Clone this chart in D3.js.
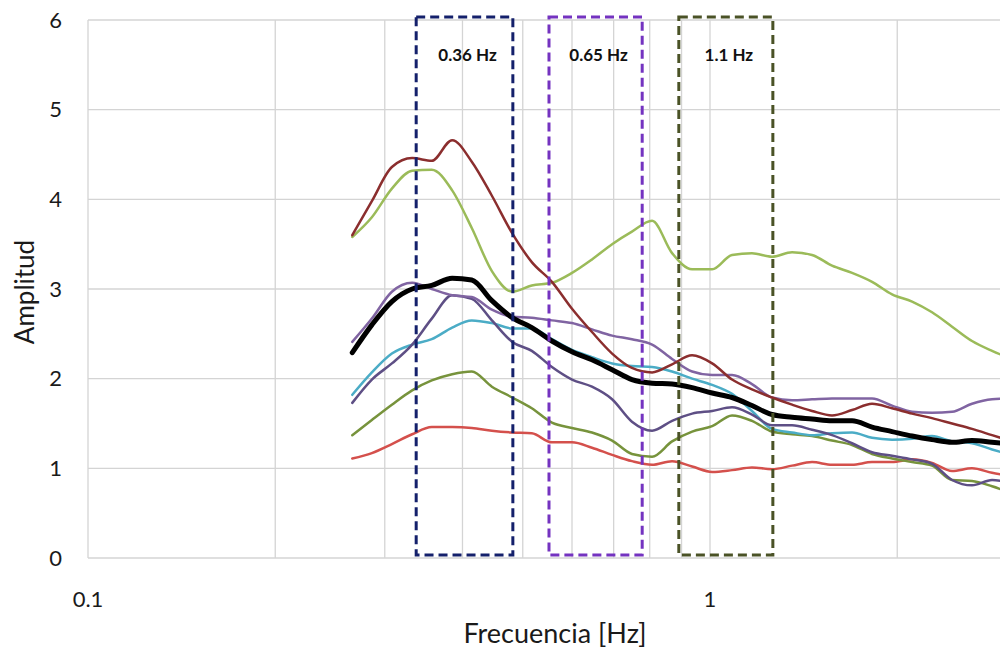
<!DOCTYPE html>
<html>
<head>
<meta charset="utf-8">
<script src="https://cdn.jsdelivr.net/npm/d3@7/dist/d3.min.js"></script>
<style>
  html, body { margin: 0; padding: 0; background: #fff; }
  svg { display: block; }
</style>
</head>
<body>
<svg id="chart" width="1000" height="651"></svg>
<script>
// ---- Data ----
const freqs = [0.266, 0.286, 0.308, 0.332, 0.357, 0.385, 0.414, 0.446, 0.481, 0.517,
               0.557, 0.600, 0.646, 0.696, 0.749, 0.807, 0.869, 0.936, 1.008, 1.085,
               1.168, 1.258, 1.355, 1.459, 1.571, 1.692, 1.822, 1.962, 2.113, 2.275,
               2.450, 2.638, 2.841, 3.059];

const darkRed = [3.60, 3.98, 4.36, 4.46, 4.43, 4.66, 4.42, 4.04, 3.62, 3.30,
                 3.08, 2.78, 2.52, 2.28, 2.12, 2.07, 2.16, 2.26, 2.17, 1.99,
                 1.88, 1.79, 1.71, 1.64, 1.59, 1.65, 1.72, 1.67, 1.61, 1.56,
                 1.50, 1.44, 1.37, 1.30];
const lightGreen = [3.58, 3.80, 4.12, 4.32, 4.33, 4.10, 3.68, 3.20, 2.97, 3.04,
                    3.07, 3.18, 3.33, 3.50, 3.64, 3.76, 3.40, 3.22, 3.22, 3.38,
                    3.40, 3.36, 3.41, 3.38, 3.26, 3.18, 3.08, 2.94, 2.86, 2.74,
                    2.58, 2.42, 2.31, 2.22];
const lightPurple = [2.41, 2.67, 2.97, 3.07, 3.00, 2.93, 2.91, 2.77, 2.69, 2.68,
                     2.65, 2.62, 2.55, 2.48, 2.44, 2.38, 2.22, 2.08, 2.04, 2.04,
                     1.94, 1.79, 1.76, 1.77, 1.78, 1.78, 1.78, 1.70, 1.63, 1.62,
                     1.63, 1.72, 1.77, 1.78];
const slate = [1.73, 1.99, 2.17, 2.38, 2.67, 2.93, 2.89, 2.65, 2.41, 2.31,
               2.13, 1.99, 1.91, 1.77, 1.52, 1.42, 1.53, 1.61, 1.64, 1.68,
               1.60, 1.48, 1.48, 1.43, 1.37, 1.28, 1.18, 1.14, 1.10, 1.05,
               0.87, 0.81, 0.87, 0.83];
const cyan = [1.82, 2.07, 2.28, 2.38, 2.44, 2.57, 2.65, 2.62, 2.56, 2.56,
              2.44, 2.32, 2.24, 2.17, 2.14, 2.13, 2.08, 2.00, 1.93, 1.83,
              1.64, 1.44, 1.40, 1.37, 1.39, 1.40, 1.34, 1.32, 1.33, 1.36,
              1.30, 1.28, 1.21, 1.15];
const olive = [1.37, 1.54, 1.71, 1.87, 1.98, 2.05, 2.08, 1.91, 1.79, 1.67,
               1.51, 1.45, 1.40, 1.31, 1.16, 1.13, 1.30, 1.41, 1.47, 1.59,
               1.53, 1.41, 1.38, 1.36, 1.31, 1.26, 1.16, 1.11, 1.07, 1.03,
               0.87, 0.86, 0.80, 0.72];
const red = [1.11, 1.17, 1.27, 1.38, 1.46, 1.46, 1.45, 1.42, 1.40, 1.39,
             1.29, 1.29, 1.23, 1.15, 1.08, 1.04, 1.08, 1.02, 0.96, 0.98,
             1.01, 0.99, 1.03, 1.07, 1.04, 1.04, 1.07, 1.07, 1.10, 1.06,
             0.97, 1.00, 0.95, 0.91];
const average = [2.29, 2.60, 2.86, 3.00, 3.04, 3.12, 3.10, 2.87, 2.68, 2.57,
                 2.42, 2.30, 2.21, 2.10, 1.99, 1.95, 1.94, 1.90, 1.84, 1.79,
                 1.70, 1.60, 1.57, 1.55, 1.53, 1.53, 1.46, 1.41, 1.36, 1.32,
                 1.29, 1.31, 1.29, 1.27];

// highlighted frequency bands
const bandLabels = ["0.36 Hz", "0.65 Hz", "1.1 Hz"];
const bandLow  = [0.337, 0.551, 0.891];
const bandHigh = [0.482, 0.778, 1.262];

const yTicks = [0, 1, 2, 3, 4, 5, 6];
const xTickLabels = [0.1, 1];

// ---- Styles ----
const seriesList = [
  { values: red,         color: "#D4504C", width: 2.5 },
  { values: olive,       color: "#77933C", width: 2.5 },
  { values: cyan,        color: "#4BACC6", width: 2.5 },
  { values: slate,       color: "#5E4F85", width: 2.5 },
  { values: lightPurple, color: "#8064A2", width: 2.5 },
  { values: lightGreen,  color: "#9BBB59", width: 2.5 },
  { values: darkRed,     color: "#8B2E2E", width: 2.5 },
  { values: average,     color: "#000000", width: 5 }
];
const bandColors = ["#14206B", "#7433C0", "#4A5226"];

// ---- Scales ----
const svg = d3.select("#chart");
const x = d3.scaleLog().domain([0.1, 10]).range([88, 1332]);
const y = d3.scaleLinear().domain([0, 6]).range([558, 20]);

const font = "Lato, 'Open Sans', sans-serif";

// gridlines
const vGrid = [];
[0.1, 1].forEach(d => { for (let k = 1; k <= 9; k++) vGrid.push(d * k); });
vGrid.push(10);

svg.append("g").selectAll("line").data(vGrid).join("line")
  .attr("x1", d => x(d)).attr("x2", d => x(d))
  .attr("y1", y(0)).attr("y2", y(6))
  .attr("stroke", "#d4d4d4").attr("stroke-width", 1.3);

svg.append("g").selectAll("line").data(yTicks).join("line")
  .attr("x1", x(0.1)).attr("x2", x(10))
  .attr("y1", d => y(d)).attr("y2", d => y(d))
  .attr("stroke", "#d4d4d4").attr("stroke-width", 1.3);

// y tick labels
svg.append("g").selectAll("text").data(yTicks).join("text")
  .attr("x", 62).attr("y", d => y(d))
  .attr("dy", "0.35em")
  .attr("text-anchor", "end")
  .attr("font-family", font).attr("font-size", 22)
  .attr("fill", "#1a1a1a")
  .text(d => d);

// x tick labels
svg.append("g").selectAll("text").data(xTickLabels).join("text")
  .attr("x", d => x(d)).attr("y", 607)
  .attr("text-anchor", "middle")
  .attr("font-family", font).attr("font-size", 22)
  .attr("fill", "#1a1a1a")
  .text(d => d);

// axis titles
svg.append("text")
  .attr("x", 555).attr("y", 643)
  .attr("text-anchor", "middle")
  .attr("font-family", font).attr("font-size", 27)
  .attr("fill", "#1a1a1a")
  .text("Frecuencia [Hz]");

svg.append("text")
  .attr("transform", "translate(34,292) rotate(-90)")
  .attr("text-anchor", "middle")
  .attr("font-family", font).attr("font-size", 26)
  .attr("fill", "#1a1a1a")
  .text("Amplitud");

// series lines
const line = d3.line()
  .x((d, i) => x(freqs[i]))
  .y(d => y(d))
  .curve(d3.curveMonotoneX);

svg.append("g").selectAll("path").data(seriesList).join("path")
  .attr("d", s => line(s.values))
  .attr("fill", "none")
  .attr("stroke", s => s.color)
  .attr("stroke-width", s => s.width)
  .attr("stroke-linejoin", "round")
  .attr("stroke-linecap", "round");

// band boxes
const bands = bandLabels.map((l, i) => ({ label: l, lo: bandLow[i], hi: bandHigh[i], color: bandColors[i] }));
const bg = svg.append("g");
bg.selectAll("rect").data(bands).join("rect")
  .attr("x", d => x(d.lo)).attr("y", 17)
  .attr("width", d => x(d.hi) - x(d.lo))
  .attr("height", 555 - 17)
  .attr("fill", "none")
  .attr("stroke", d => d.color)
  .attr("stroke-width", 3)
  .attr("stroke-dasharray", "9,5");

bg.selectAll("text").data(bands).join("text")
  .attr("x", d => (x(d.lo) + x(d.hi)) / 2 + 3)
  .attr("y", 61)
  .attr("text-anchor", "middle")
  .attr("font-family", font).attr("font-size", 17).attr("font-weight", "bold")
  .attr("fill", "#111")
  .text(d => d.label);
</script>
</body>
</html>
